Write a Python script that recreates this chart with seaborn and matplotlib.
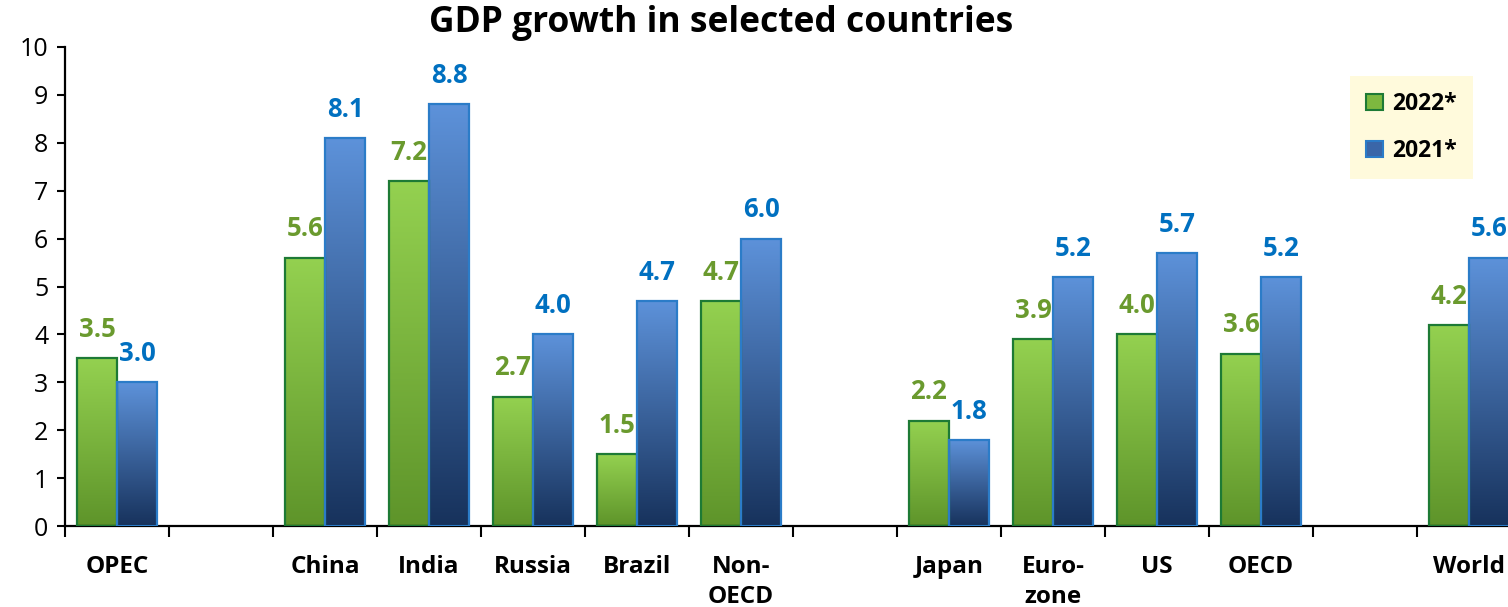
import numpy as np
import pandas as pd
import matplotlib
matplotlib.use("Agg")
import matplotlib.pyplot as plt
import seaborn as sns
from matplotlib.colors import LinearSegmentedColormap
from matplotlib.patches import Patch

# GDP growth, % y-o-y
regions = ["OPEC", "China", "India", "Russia", "Brazil", "Non-\nOECD",
           "Japan", "Euro-\nzone", "US", "OECD", "World"]
growth_2022 = [3.5, 5.6, 7.2, 2.7, 1.5, 4.7, 2.2, 3.9, 4.0, 3.6, 4.2]
growth_2021 = [3.0, 8.1, 8.8, 4.0, 4.7, 6.0, 1.8, 5.2, 5.7, 5.2, 5.6]
years = ["2022*", "2021*"]
y_ticks = list(range(0, 11))

# empty slots separate the OPEC / non-OECD / OECD / world groups
slots = ["OPEC", "_s1", "China", "India", "Russia", "Brazil", "Non-\nOECD",
         "_s2", "Japan", "Euro-\nzone", "US", "OECD", "_s3", "World"]

df = pd.DataFrame({
    "region": regions * 2,
    "year": [years[0]] * len(regions) + [years[1]] * len(regions),
    "growth": growth_2022 + growth_2021,
})

sns.set_style("ticks")
plt.rcParams["font.family"] = ["Open Sans", "DejaVu Sans"]
plt.rcParams["text.color"] = "black"
plt.rcParams["xtick.color"] = "black"
plt.rcParams["ytick.color"] = "black"
plt.rcParams["xtick.labelcolor"] = "black"
plt.rcParams["ytick.labelcolor"] = "black"

fig = plt.figure(figsize=(15.08, 6.07), dpi=100)
ax = fig.add_axes([65 / 1508, 81 / 607, 1456 / 1508, 479 / 607])

sns.barplot(data=df, x="region", y="growth", hue="year", order=slots,
            hue_order=years, width=0.77, errorbar=None, legend=False,
            palette=["#7DB83F", "#3A66A8"], ax=ax)

styles = {
    0: dict(top="#94D150", bottom="#5E942A", edge="#1D7A35", text="#6A9A2E"),
    1: dict(top="#5D92DA", bottom="#17325C", edge="#2B7CC8", text="#0070C0"),
}

for i, cont in enumerate(ax.containers):
    st = styles[i]
    cmap = LinearSegmentedColormap.from_list(f"grad{i}", [st["top"], st["bottom"]])
    grad = np.linspace(0, 1, 256).reshape(-1, 1)
    for bar in cont:
        h = bar.get_height()
        if not np.isfinite(h) or h <= 0:
            continue
        x0, w = bar.get_x(), bar.get_width()
        bar.set_facecolor("none")
        bar.set_edgecolor(st["edge"])
        bar.set_linewidth(1.6)
        bar.set_zorder(3)
        im = ax.imshow(grad, cmap=cmap, aspect="auto", origin="upper",
                       extent=(x0, x0 + w, 0, h), zorder=2.5)
        im.set_clip_path(bar)
    ax.bar_label(cont, fmt="%.1f", padding=11, color=st["text"],
                 fontsize=18.5, fontweight="bold")

ax.set_xlim(-0.5, len(slots) - 0.5)
ax.set_ylim(0, 10)
ax.set_yticks(y_ticks)
ax.set_yticklabels([str(v) for v in y_ticks], fontsize=18, color="black")

ax.set_xticks(range(len(slots)))
ax.set_xticklabels(["" if s.startswith("_s") else s for s in slots],
                   fontsize=17.5, fontweight="bold", linespacing=1.3,
                   color="black")
ax.set_xticks(np.arange(-0.5, len(slots), 1), minor=True)
ax.tick_params(axis="x", which="major", length=0, pad=21)
ax.tick_params(axis="x", which="minor", length=8, width=1.5, direction="out", color="black")
ax.tick_params(axis="y", length=6, width=1.5, direction="out", color="black", pad=6)
ax.set_xlabel("")
ax.set_ylabel("")

for side in ("top", "right"):
    ax.spines[side].set_visible(False)
for side in ("left", "bottom"):
    ax.spines[side].set_color("black")
    ax.spines[side].set_linewidth(1.6)

fig.text(721 / 1508, 1 - 23 / 607, "GDP growth in selected countries",
         ha="center", va="center", fontsize=25.5, fontweight="bold",
         color="black")

handles = [Patch(facecolor="#7DB83F", edgecolor=styles[0]["edge"], linewidth=1.5),
           Patch(facecolor="#3A66A8", edgecolor=styles[1]["edge"], linewidth=1.5)]
leg = fig.legend(handles, years, loc="upper left",
                 bbox_to_anchor=(1350 / 1508, 1 - 76 / 607), borderaxespad=0,
                 frameon=True, facecolor="#FFFADC", edgecolor="none",
                 fancybox=False, framealpha=1, handlelength=0.75,
                 handleheight=0.75, handletextpad=0.4, labelspacing=1.0,
                 borderpad=0.7, labelcolor="black",
                 prop=dict(size=16.5, weight="bold"))

fig.savefig("out.png", dpi=100)
